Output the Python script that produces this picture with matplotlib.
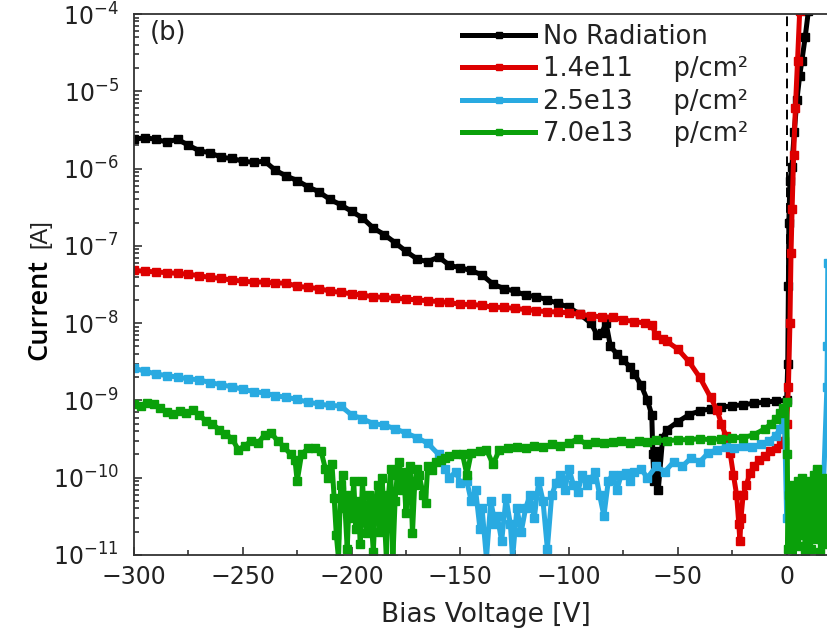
import matplotlib
matplotlib.use("Agg")
import matplotlib.pyplot as plt
from matplotlib.ticker import MultipleLocator

plt.rcParams["font.family"] = ["DejaVu Sans"]
plt.rcParams["mathtext.fontset"] = "dejavusans"

# I-V sweeps, bias in volts, current in amps
V_NORAD = [-300, -295, -290, -285, -280, -275, -270, -265, -260, -255,
           -250, -245, -240, -235, -230, -225, -220, -215, -210, -205,
           -200, -195, -190, -185, -180, -175, -170, -165, -160, -155,
           -150, -145, -140, -135, -130, -125, -120, -115, -110, -105,
           -100, -95, -90, -87, -85, -83, -81, -78, -75, -72,
           -70, -67, -64, -62, -61.5, -61, -59.5, -59, -57, -55,
           -50, -45, -40, -35, -30, -25, -20, -15, -10, -5,
           0, 0.5, 0.8, 1.0, 1.5, 2.4, 3.5, 4.7, 6.0, 7.0,
           8.5, 10.0]
I_NORAD = [2.4e-6, 2.5e-6, 2.4e-6, 2.2e-6, 2.4e-6, 2.0e-6, 1.7e-6, 1.6e-6, 1.4e-6, 1.35e-6,
           1.25e-6, 1.2e-6, 1.25e-6, 9.5e-7, 8.0e-7, 7.0e-7, 5.8e-7, 5.0e-7, 4.0e-7, 3.4e-7,
           2.8e-7, 2.3e-7, 1.7e-7, 1.4e-7, 1.1e-7, 8.5e-8, 6.8e-8, 6.2e-8, 7.2e-8, 5.6e-8,
           5.2e-8, 4.8e-8, 4.2e-8, 3.2e-8, 2.8e-8, 2.6e-8, 2.3e-8, 2.2e-8, 2.0e-8, 1.8e-8,
           1.6e-8, 1.3e-8, 1.0e-8, 7.0e-9, 7.5e-9, 1.0e-8, 5.0e-9, 4.0e-9, 3.3e-9, 2.7e-9,
           2.2e-9, 1.6e-9, 1.0e-9, 6.5e-10, 2.0e-10, 9.0e-11, 2.2e-10, 7.0e-11, 3.3e-10, 4.2e-10,
           5.3e-10, 6.5e-10, 7.3e-10, 7.8e-10, 8.2e-10, 8.5e-10, 8.8e-10, 9.2e-10, 9.5e-10, 9.8e-10,
           1.0e-9, 3.0e-9, 3.0e-8, 2.0e-7, 7.0e-7, 1.05e-6, 3.0e-6, 7.7e-6, 1.6e-5, 2.5e-5,
           5.0e-5, 1.1e-4]

V_P14 = [-300, -295, -290, -285, -280, -275, -270, -265, -260, -255,
         -250, -245, -240, -235, -230, -225, -220, -215, -210, -205,
         -200, -195, -190, -185, -180, -175, -170, -165, -160, -155,
         -150, -145, -140, -135, -130, -125, -120, -115, -110, -105,
         -100, -95, -90, -85, -80, -75, -70, -65,
         -62, -60, -57, -55, -50, -45, -40, -35,
         -32, -30, -28, -26, -24.5, -23, -22, -21.5, -21, -20,
         -18.5, -17, -15, -12.5, -10, -7.5, -5, -2.5, -1, 0,
         0.8, 1.5, 2.0, 2.5, 3.2, 4.0, 5.0, 6.0]
I_P14 = [4.8e-8, 4.7e-8, 4.6e-8, 4.5e-8, 4.4e-8, 4.3e-8, 4.1e-8, 3.9e-8, 3.8e-8, 3.6e-8,
         3.5e-8, 3.4e-8, 3.4e-8, 3.3e-8, 3.3e-8, 3.0e-8, 2.9e-8, 2.8e-8, 2.6e-8, 2.5e-8,
         2.4e-8, 2.3e-8, 2.2e-8, 2.15e-8, 2.1e-8, 2.05e-8, 2.0e-8, 1.95e-8, 1.9e-8, 1.85e-8,
         1.75e-8, 1.75e-8, 1.7e-8, 1.6e-8, 1.6e-8, 1.55e-8, 1.5e-8, 1.45e-8, 1.4e-8, 1.4e-8,
         1.35e-8, 1.3e-8, 1.25e-8, 1.2e-8, 1.2e-8, 1.1e-8, 1.05e-8, 1.0e-8,
         9.5e-9, 7.0e-9, 6.3e-9, 5.8e-9, 4.6e-9, 3.2e-9, 2.0e-9, 1.1e-9,
         7.5e-10, 5.0e-10, 3.5e-10, 2.1e-10, 1.1e-10, 6.0e-11, 2.5e-11, 1.5e-11, 3.0e-11, 6.0e-11,
         8.0e-11, 1.15e-10, 1.4e-10, 1.7e-10, 1.9e-10, 2.2e-10, 2.4e-10, 2.7e-10, 3.0e-10, 5.0e-10,
         1.5e-9, 1.0e-8, 8.0e-8, 3.0e-7, 1.5e-6, 6.0e-6, 2.5e-5, 1.1e-4]

V_P25 = [-300, -295, -290, -285, -280, -275, -270, -265, -260, -255,
         -250, -245, -240, -235, -230, -225, -220, -215, -210, -205,
         -200, -195, -190, -185, -180, -175, -170, -165, -160,
         -157, -155, -152, -150, -147, -145, -143, -141, -140, -138,
         -136, -134, -133, -131, -129, -127, -126, -124, -122, -120,
         -118, -116, -114, -112, -110, -108, -106, -104, -102, -100,
         -98, -96, -94, -92, -90, -88, -86, -84, -82, -80,
         -78, -76, -74, -72, -70,
         -67, -64, -60, -56, -52, -48, -44, -40, -36, -32,
         -28, -24, -20, -16, -12, -8, -5, -3, -1, 0,
         2, 5, 8, 11, 14, 17, 18.5, 18.7, 18.9]
I_P25 = [2.6e-9, 2.4e-9, 2.2e-9, 2.1e-9, 2.0e-9, 1.9e-9, 1.85e-9, 1.7e-9, 1.6e-9, 1.5e-9,
         1.4e-9, 1.3e-9, 1.25e-9, 1.15e-9, 1.1e-9, 1.03e-9, 9.5e-10, 9.0e-10, 8.6e-10, 8.5e-10,
         6.5e-10, 5.8e-10, 5.0e-10, 4.8e-10, 4.3e-10, 3.8e-10, 3.3e-10, 2.8e-10, 2.0e-10,
         1.3e-10, 1.0e-10, 1.2e-10, 8.5e-11, 9.0e-11, 5.0e-11, 7.0e-11, 2.2e-11, 4.0e-11, 9.0e-12,
         5.0e-11, 2.5e-11, 3.2e-11, 1.5e-11, 5.5e-11, 2.5e-11, 9.0e-12, 4.0e-11, 2.0e-11, 4.0e-11,
         6.0e-11, 3.0e-11, 9.0e-11, 5.0e-11, 1.2e-11, 6.0e-11, 8.5e-11, 1.1e-10, 7.0e-11, 1.3e-10,
         8.0e-11, 6.5e-11, 1.1e-10, 8.0e-11, 9.5e-11, 1.2e-10, 6.0e-11, 3.2e-11, 9.0e-11, 1.1e-10,
         7.0e-11, 1.1e-10, 1.15e-10, 9.0e-11, 1.2e-10,
         1.3e-10, 1.0e-10, 1.4e-10, 1.2e-10, 1.6e-10, 1.4e-10, 1.8e-10, 1.6e-10, 2.1e-10, 2.3e-10,
         2.5e-10, 2.4e-10, 2.6e-10, 2.5e-10, 2.7e-10, 3.0e-10, 3.5e-10, 4.3e-10, 6.0e-10, 3.0e-11,
         5.0e-11, 3.0e-11, 6.0e-11, 4.0e-11, 1.2e-10, 9.0e-11, 1.5e-9, 5.0e-9, 6.0e-8]

V_P70 = [-300, -297, -294, -291, -288, -285, -282, -279, -276, -273,
         -270, -267, -264, -261, -258, -255, -252, -249, -246, -243,
         -240, -237, -234, -231, -228,
         -226, -225, -223, -220, -217, -214, -212, -211, -209, -208,
         -207, -206, -205, -204, -203, -202, -201, -200, -199, -198,
         -197, -196, -195, -194, -193, -192, -191, -190, -189, -188,
         -187, -186, -185, -184, -183, -182, -181, -180, -179, -178,
         -177, -176, -175, -174, -173, -172, -171, -170,
         -169, -167, -166, -165, -163, -161, -159, -157, -155, -152,
         -149, -147, -145, -141, -138, -135, -132, -128, -124, -120,
         -116, -112, -108, -104, -100, -96, -92, -88, -84, -80,
         -76, -72, -68, -64, -60,
         -55, -50, -45, -40, -35, -30, -25, -20, -15, -10,
         -7, -5, -3, -1.5, 0, 0.3, 0.6,
         1.0, 1.5, 2.0, 2.5, 3.0, 3.5, 4.0, 4.5, 5.0, 5.5,
         6.0, 6.5, 7.0, 7.5, 8.0, 8.5, 9.0, 9.5, 10.0, 10.5,
         11.0, 11.5, 12.0, 12.5, 13.0, 13.5, 14.0, 14.5, 15.0, 15.5,
         16.0, 16.5, 17.0, 17.5, 18.0, 18.5, 19.0]
I_P70 = [9.0e-10, 8.5e-10, 9.3e-10, 9.0e-10, 8.0e-10, 7.0e-10, 6.6e-10, 7.2e-10, 6.8e-10, 7.5e-10,
         6.5e-10, 5.4e-10, 5.0e-10, 4.2e-10, 3.7e-10, 3.2e-10, 2.3e-10, 2.6e-10, 3.0e-10, 2.8e-10,
         3.6e-10, 3.8e-10, 3.0e-10, 2.5e-10, 2.0e-10,
         1.7e-10, 9.0e-11, 2.0e-10, 2.4e-10, 2.4e-10, 2.2e-10, 1.3e-10, 1.0e-10, 1.5e-10, 5.5e-11,
         1.8e-11, 9.0e-12, 8.0e-11, 1.1e-10, 4.0e-11, 1.2e-11, 6.0e-11, 3.0e-11, 9.0e-11, 2.2e-11,
         5.0e-11, 1.4e-11, 9.0e-11, 3.0e-11, 1.9e-11, 6.0e-11, 3.0e-11, 1.1e-11, 4.7e-11, 8.0e-11,
         2.0e-11, 1.0e-10, 3.5e-11, 9.0e-12, 6.0e-11, 1.3e-10, 9.0e-12, 5.0e-11, 1.1e-10, 1.6e-10,
         7.0e-11, 1.2e-10, 3.5e-11, 9.0e-11, 1.4e-10, 1.9e-11, 8.0e-11, 1.3e-10,
         1.1e-10, 6.0e-11, 4.7e-11, 1.4e-10, 1.26e-10, 1.6e-10, 1.7e-10, 1.8e-10, 1.9e-10, 2.0e-10,
         2.0e-10, 1.1e-10, 2.1e-10, 2.2e-10, 2.3e-10, 1.5e-10, 2.3e-10, 2.4e-10, 2.5e-10, 2.4e-10,
         2.6e-10, 2.5e-10, 2.7e-10, 2.6e-10, 2.8e-10, 3.2e-10, 2.7e-10, 2.9e-10, 2.8e-10, 2.9e-10,
         3.0e-10, 2.8e-10, 3.0e-10, 2.9e-10, 3.1e-10,
         3.0e-10, 3.1e-10, 3.1e-10, 3.2e-10, 3.1e-10, 3.2e-10, 3.3e-10, 3.3e-10, 3.6e-10, 4.3e-10,
         5.0e-10, 5.8e-10, 6.8e-10, 8.0e-10, 9.5e-10, 2.0e-10, 1.2e-11,
         6.0e-11, 1.5e-11, 8.0e-11, 2.0e-11, 5.0e-11, 9.0e-12, 7.0e-11, 2.5e-11, 9.0e-11, 1.3e-11,
         6.0e-11, 3.0e-11, 1.0e-10, 1.8e-11, 7.0e-11, 1.1e-11, 5.0e-11, 9.0e-11, 2.0e-11, 6.0e-11,
         1.2e-11, 8.0e-11, 3.0e-11, 1.1e-10, 1.6e-11, 7.0e-11, 1.3e-10, 2.5e-11, 9.0e-11, 1.1e-11,
         6.0e-11, 1.0e-10, 2.0e-11, 8.0e-11, 1.4e-11, 7.0e-11, 4.0e-11]

SERIES = [
    (V_NORAD, I_NORAD, "#000000", "No Radiation"),
    (V_P14, I_P14, "#dd0000", "1.4e11     p/cm²"),
    (V_P25, I_P25, "#29aae1", "2.5e13     p/cm²"),
    (V_P70, I_P70, "#0aa00a", "7.0e13     p/cm²"),
]

DECADES = [-11, -10, -9, -8, -7, -6, -5, -4]

W, H = 828, 629
fig = plt.figure(figsize=(W / 100, H / 100), dpi=100)
ax = fig.add_axes([134 / W, 74 / H, 694 / W, 541 / H])

ax.axvline(0, color="black", lw=1.4, ls=(0, (5, 3)), zorder=1.5)

for volts, amps, color, label in SERIES:
    ax.plot(volts, amps, color=color, lw=3.6, marker="s", ms=6,
            mec=color, mfc=color, label=label)

ax.set_yscale("log")
ax.set_ylim(1e-11, 1e-4)
ax.set_xlim(-300, 19)
ax.xaxis.set_major_locator(MultipleLocator(50))
ax.xaxis.set_minor_locator(MultipleLocator(25))
# only decades inside the range, so no labels sit off the canvas
ax.set_yticks([10.0 ** d for d in DECADES])
ax.set_yticks([m * 10.0 ** d for d in DECADES[:-1] for m in range(2, 10)],
              minor=True)

ax.tick_params(which="both", direction="in", top=False, right=False,
               width=1.2, color="#333333", labelsize=17, labelcolor="#222222")
ax.tick_params(which="major", length=6)
ax.tick_params(which="minor", length=3.5)
ax.tick_params(axis="x", pad=7)
ax.tick_params(axis="y", pad=11)

ax.spines["right"].set_visible(False)
for side in ("left", "bottom", "top"):
    ax.spines[side].set_linewidth(1.3)
    ax.spines[side].set_color("#333333")

ax.text(0.023, 0.965, "(b)", transform=ax.transAxes, fontsize=18.5,
        ha="left", va="center", color="#222222")

leg = ax.legend(loc="upper left", bbox_to_anchor=(0.4726, 0.981), frameon=False,
                fontsize=18.5, handlelength=2.85, handletextpad=0.3,
                labelspacing=0.24, borderaxespad=0, borderpad=0, numpoints=1,
                markerscale=0.75)
for text in leg.get_texts():
    text.set_color("#222222")

ax.set_xlabel("Bias Voltage [V]", fontsize=19, color="#222222")
ax.xaxis.set_label_coords((486 - 134) / 694, (555 - 615) / 541)
ax.xaxis.label.set_va("center")

ax.set_ylabel("Current", fontsize=19.5, family=["Open Sans", "DejaVu Sans"],
              weight="semibold")
ax.yaxis.set_label_coords((39 - 134) / 694, (555 - 310) / 541)
ax.yaxis.label.set_va("center")
ax.yaxis.label.set_ha("center")

fig.text(40 / W, 1 - 234 / H, "[A]", rotation=90, ha="center", va="center",
         fontsize=17, family=["Liberation Sans", "DejaVu Sans"], color="#222222")

fig.savefig("out.png", dpi=100, facecolor="white")
